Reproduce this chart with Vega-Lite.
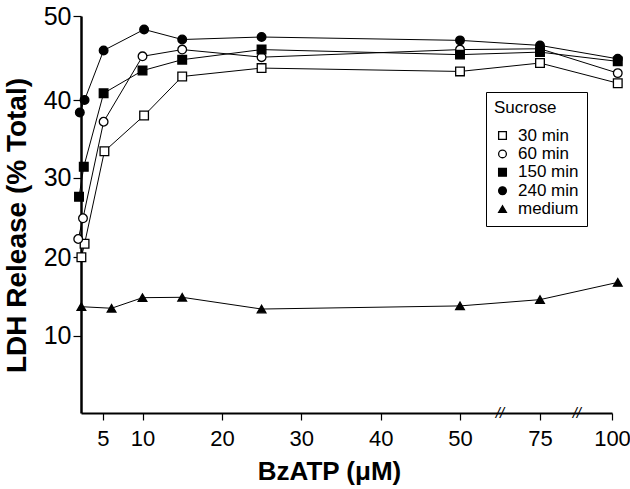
{
  "$schema": "https://vega.github.io/schema/vega-lite/v6.json",
  "width": 531,
  "height": 397,
  "autosize": "none",
  "padding": {"left": 81, "top": 16, "right": 18, "bottom": 76},
  "background": "white",
  "config": {
    "view": {"stroke": null},
    "font": "Liberation Sans",
    "axis": {
      "grid": false,
      "domainColor": "black",
      "tickColor": "black",
      "labelColor": "black",
      "titleColor": "black",
      "labelFont": "Liberation Sans",
      "titleFont": "Liberation Sans",
      "labelFlush": false,
      "labelOverlap": false
    },
    "legend": {
      "orient": "none", "legendX": 405, "legendY": 76,
      "strokeColor": "black", "padding": 8,
      "titleFontSize": 17, "titleFontWeight": "normal", "titleColor": "black", "titlePadding": 10,
      "labelFontSize": 17, "labelColor": "black", "labelOffset": 7,
      "symbolSize": 60, "symbolStrokeWidth": 1.3,
      "rowPadding": 0.4
    }
  },
  "datasets": {
    "obs": [
      {"series": "30 min", "x": 2.3, "y": 20.0},
      {"series": "30 min", "x": 2.7, "y": 21.7},
      {"series": "30 min", "x": 5.2, "y": 33.4},
      {"series": "30 min", "x": 10.2, "y": 38.0},
      {"series": "30 min", "x": 15, "y": 42.8},
      {"series": "30 min", "x": 25, "y": 43.8},
      {"series": "30 min", "x": 50, "y": 43.4},
      {"series": "30 min", "x": 75, "y": 44.4},
      {"series": "30 min", "x": 102, "y": 42.0},
      {"series": "60 min", "x": 1.9, "y": 22.3},
      {"series": "60 min", "x": 2.5, "y": 24.9},
      {"series": "60 min", "x": 5.1, "y": 37.2},
      {"series": "60 min", "x": 10, "y": 45.2},
      {"series": "60 min", "x": 15, "y": 46.0},
      {"series": "60 min", "x": 25, "y": 45.1},
      {"series": "60 min", "x": 50, "y": 46.0},
      {"series": "60 min", "x": 75, "y": 46.1},
      {"series": "60 min", "x": 102, "y": 43.2},
      {"series": "150 min", "x": 2.0, "y": 27.6},
      {"series": "150 min", "x": 2.6, "y": 31.4},
      {"series": "150 min", "x": 5.1, "y": 40.8},
      {"series": "150 min", "x": 10, "y": 43.5},
      {"series": "150 min", "x": 15, "y": 44.8},
      {"series": "150 min", "x": 25, "y": 46.0},
      {"series": "150 min", "x": 50, "y": 45.4},
      {"series": "150 min", "x": 75, "y": 45.7},
      {"series": "150 min", "x": 102, "y": 44.6},
      {"series": "240 min", "x": 2.1, "y": 38.4},
      {"series": "240 min", "x": 2.7, "y": 40.0},
      {"series": "240 min", "x": 5.1, "y": 45.9},
      {"series": "240 min", "x": 10.2, "y": 48.4},
      {"series": "240 min", "x": 15, "y": 47.2},
      {"series": "240 min", "x": 25, "y": 47.5},
      {"series": "240 min", "x": 50, "y": 47.1},
      {"series": "240 min", "x": 75, "y": 46.5},
      {"series": "240 min", "x": 102, "y": 44.9},
      {"series": "medium", "x": 2.3, "y": 13.7},
      {"series": "medium", "x": 6.1, "y": 13.5},
      {"series": "medium", "x": 10, "y": 14.85},
      {"series": "medium", "x": 15, "y": 14.9},
      {"series": "medium", "x": 25, "y": 13.4},
      {"series": "medium", "x": 50, "y": 13.8},
      {"series": "medium", "x": 75, "y": 14.6},
      {"series": "medium", "x": 102, "y": 16.8}
    ],
    "breaks": [
      {"x": 62.5, "y": 0, "mark": "//"},
      {"x": 87.8, "y": 0, "mark": "//"}
    ]
  },
  "encoding": {
    "x": {
      "field": "x",
      "type": "quantitative",
      "title": "BzATP (μM)",
      "scale": {"domain": [2.25, 50, 75, 100], "range": [0, 379, 459, 531], "nice": false, "zero": false, "clamp": false},
      "axis": {
        "values": [5, 10, 20, 30, 40, 50, 75, 100],
        "domainWidth": 2,
        "tickWidth": 1.2,
        "tickSize": 7,
        "labelFontSize": 22,
        "labelPadding": 8,
        "titleFontSize": 26,
        "titleFontWeight": "bold",
        "titlePadding": 9,
        "titleX": 248,
        "titleAnchor": null
      }
    },
    "y": {
      "field": "y",
      "type": "quantitative",
      "title": "LDH Release (% Total)",
      "scale": {"domain": [0, 10, 20, 30, 40, 50], "range": [397, 319.7, 241.3, 161.7, 84, 0], "nice": false, "zero": false},
      "axis": {
        "values": [10, 20, 30, 40, 50],
        "domainWidth": 2.5,
        "tickWidth": 1.2,
        "tickSize": 8,
        "labelFontSize": 25,
        "labelPadding": 2,
        "titleFontSize": 28,
        "titleFontWeight": "bold",
        "titlePadding": 12,
        "titleY": 209,
        "titleAnchor": null
      }
    }
  },
  "layer": [
    {
      "data": {"name": "obs"},
      "mark": {"type": "line", "color": "black", "strokeWidth": 1},
      "encoding": {"detail": {"field": "series"}}
    },
    {
      "data": {"name": "obs"},
      "mark": {"type": "point", "filled": true, "strokeWidth": 1.3, "opacity": 1, "size": 75},
      "encoding": {
        "shape": {
          "field": "series",
          "type": "nominal",
          "title": "Sucrose",
          "scale": {"domain": ["30 min", "60 min", "150 min", "240 min", "medium"], "range": ["square", "circle", "square", "circle", "triangle-up"]}
        },
        "fill": {
          "field": "series",
          "type": "nominal",
          "title": "Sucrose",
          "scale": {"domain": ["30 min", "60 min", "150 min", "240 min", "medium"], "range": ["white", "white", "black", "black", "black"]}
        },
        "stroke": {
          "field": "series",
          "type": "nominal",
          "title": "Sucrose",
          "scale": {"domain": ["30 min", "60 min", "150 min", "240 min", "medium"], "range": ["black", "black", "black", "black", "black"]}
        }
      }
    },
    {
      "data": {"name": "breaks"},
      "mark": {"type": "text", "fontSize": 15, "fontStyle": "italic", "baseline": "middle", "align": "center", "color": "black", "dy": 0},
      "encoding": {"text": {"field": "mark"}}
    }
  ]
}
